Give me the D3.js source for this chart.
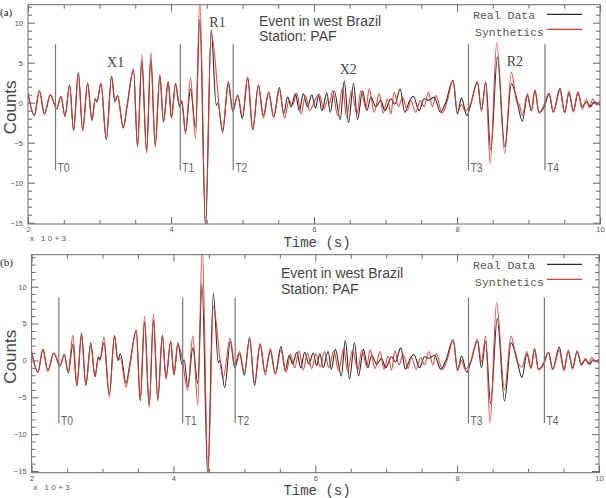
<!DOCTYPE html>
<html><head><meta charset="utf-8">
<script src="https://cdn.jsdelivr.net/npm/d3@7"></script>
<style>body{margin:0;background:#fff}</style>
</head><body><svg id="c" width="606" height="498"></svg>
<script>
// time in units of 10^3 s, amplitude in counts
const realData = [[2.000,1.2],[2.089,-1.6],[2.159,1.5],[2.229,-1.4],[2.313,1.0],[2.401,-0.75],[2.461,0.8],[2.517,-1.7],[2.582,2.2],[2.638,-3.5],[2.704,3.7],[2.764,-3.4],[2.834,2.4],[2.894,-2.2],[2.941,0.5],[2.964,0.1],[3.020,2.4],[3.095,-4.6],[3.169,3.3],[3.215,0.1],[3.253,0.9],[3.332,-3.1],[3.383,-0.6],[3.476,4.1],[3.532,-5.4],[3.592,5.2],[3.658,-6.0],[3.718,5.4],[3.779,-5.3],[3.844,3.4],[3.895,-2.4],[3.961,2.6],[4.007,-1.9],[4.063,2.4],[4.119,-0.5],[4.151,0.1],[4.203,-3.6],[4.273,1.7],[4.343,-3.1],[4.403,10.4],[4.483,-15.5],[4.562,9.1],[4.632,-0.3],[4.655,0.0],[4.722,-3.7],[4.802,2.6],[4.863,-1.0],[4.933,0.9],[4.999,-2.0],[5.073,3.1],[5.143,-3.4],[5.222,2.2],[5.292,-1.6],[5.366,1.3],[5.436,-1.8],[5.516,1.9],[5.576,-1.4],[5.632,0.7],[5.680,-0.5],[5.740,1.1],[5.795,-1.0],[5.850,1.1],[5.910,-0.5],[5.970,1.0],[6.020,-0.7],[6.065,0.9],[6.110,-1.0],[6.180,1.2],[6.227,-1.2],[6.283,1.5],[6.367,-2.1],[6.423,2.7],[6.483,-2.5],[6.553,2.4],[6.609,-2.1],[6.679,1.5],[6.740,-1.0],[6.795,0.7],[6.865,-0.5],[6.935,0.3],[6.991,-1.0],[7.075,0.5],[7.130,-0.2],[7.205,1.7],[7.270,-1.2],[7.330,0.1],[7.390,0.8],[7.470,-1.0],[7.540,0.5],[7.600,0.3],[7.680,0.7],[7.770,-1.2],[7.840,0.0],[7.945,2.8],[8.006,-1.4],[8.062,0.6],[8.137,-1.6],[8.190,-0.3],[8.286,2.6],[8.342,-1.0],[8.402,2.6],[8.472,-5.9],[8.565,5.7],[8.668,-5.5],[8.761,2.4],[8.821,1.0],[8.914,-2.3],[8.984,0.9],[9.040,-1.0],[9.091,1.5],[9.147,-1.2],[9.220,-0.5],[9.287,1.1],[9.347,-1.2],[9.440,1.8],[9.506,-1.2],[9.566,1.2],[9.627,-1.0],[9.692,1.2],[9.752,-0.5],[9.810,0.1],[9.870,-0.5],[9.915,0.1],[10.000,-0.3]];

const synthA = [[2.000,1.2],[2.089,-1.6],[2.159,1.5],[2.229,-1.4],[2.313,1.0],[2.401,-0.75],[2.461,0.8],[2.517,-1.7],[2.582,2.2],[2.638,-3.5],[2.704,3.8],[2.764,-3.5],[2.834,2.5],[2.894,-2.2],[2.941,0.5],[2.964,0.1],[3.020,2.5],[3.095,-4.6],[3.169,3.3],[3.215,0.2],[3.253,0.9],[3.332,-3.2],[3.383,-0.6],[3.476,4.2],[3.532,-5.6],[3.592,6.0],[3.658,-6.3],[3.718,6.3],[3.779,-5.5],[3.844,3.5],[3.895,-2.4],[3.961,2.6],[4.007,-1.9],[4.063,2.3],[4.119,-0.3],[4.151,0.3],[4.203,-3.9],[4.273,3.1],[4.343,-4.5],[4.403,13.0],[4.483,-15.5],[4.562,8.7],[4.722,-3.3],[4.802,2.2],[4.863,-1.1],[4.933,1.0],[4.999,-1.7],[5.073,3.2],[5.143,-3.3],[5.222,2.1],[5.292,-1.9],[5.366,1.3],[5.436,-1.8],[5.516,1.5],[5.590,-1.9],[5.650,0.3],[5.700,-0.3],[5.760,1.2],[5.820,-1.4],[5.880,0.9],[5.940,-1.0],[6.004,0.1],[6.070,1.1],[6.140,-0.8],[6.190,0.4],[6.220,0.0],[6.260,1.5],[6.330,-1.6],[6.400,1.9],[6.456,-1.8],[6.525,1.5],[6.600,-1.4],[6.656,1.5],[6.726,-0.7],[6.772,1.7],[6.842,-1.2],[6.912,1.1],[6.968,-1.3],[7.028,0.5],[7.075,-1.4],[7.121,1.3],[7.182,-0.5],[7.238,0.7],[7.308,-1.0],[7.354,0.3],[7.424,-1.2],[7.484,0.3],[7.540,-0.5],[7.601,1.3],[7.657,-0.5],[7.703,0.9],[7.796,-1.3],[7.866,0.3],[7.945,2.8],[8.006,-1.3],[8.062,-0.2],[8.110,-1.0],[8.190,-0.2],[8.286,2.6],[8.342,-1.0],[8.402,2.6],[8.464,-7.6],[8.556,7.5],[8.668,-6.3],[8.760,3.8],[8.840,0.0],[8.870,-0.2],[8.914,-1.6],[8.984,1.1],[9.040,-1.0],[9.091,1.6],[9.147,-1.3],[9.220,-0.2],[9.287,1.2],[9.347,-1.1],[9.440,1.5],[9.506,-1.3],[9.566,1.5],[9.627,-1.2],[9.692,1.4],[9.752,-0.8],[9.810,0.4],[9.850,-0.6],[9.900,0.5],[9.950,-0.3],[10.000,0.2]];

const synthB = [[2.000,1.2],[2.089,-1.6],[2.159,1.5],[2.229,-1.4],[2.313,1.0],[2.401,-0.75],[2.461,0.8],[2.517,-1.7],[2.582,3.4],[2.638,-3.2],[2.704,3.3],[2.764,-3.3],[2.834,2.1],[2.894,-2.2],[2.941,0.3],[2.964,0.0],[3.020,3.2],[3.095,-5.0],[3.169,3.4],[3.215,0.0],[3.253,0.3],[3.332,-3.6],[3.383,-0.9],[3.476,4.0],[3.532,-5.5],[3.592,6.0],[3.658,-6.4],[3.718,6.3],[3.779,-5.5],[3.844,3.4],[3.895,-2.5],[3.961,2.6],[4.007,-2.0],[4.063,2.2],[4.119,0.5],[4.200,-4.0],[4.273,3.3],[4.343,-6.0],[4.405,15.5],[4.487,-15.5],[4.563,7.3],[4.700,-2.4],[4.800,3.0],[4.863,-0.6],[4.933,1.2],[4.999,-1.7],[5.073,2.8],[5.143,-3.0],[5.222,2.3],[5.292,-2.0],[5.366,1.6],[5.436,-1.9],[5.516,1.4],[5.590,-1.6],[5.650,0.8],[5.710,-1.0],[5.770,1.3],[5.830,-1.3],[5.890,1.0],[5.950,-1.1],[6.010,0.9],[6.070,-0.9],[6.130,1.2],[6.190,-1.0],[6.260,1.3],[6.330,-1.4],[6.400,1.6],[6.456,-1.5],[6.525,1.4],[6.600,-1.3],[6.656,1.4],[6.726,-0.8],[6.772,1.4],[6.842,-1.1],[6.912,1.2],[6.968,-1.2],[7.028,0.6],[7.075,-1.3],[7.121,1.3],[7.182,-0.6],[7.238,0.9],[7.308,-1.1],[7.354,0.4],[7.424,-1.2],[7.484,0.4],[7.540,-0.6],[7.601,1.2],[7.657,-0.6],[7.703,0.9],[7.796,-1.2],[7.866,0.3],[7.945,2.8],[8.006,-1.3],[8.062,0.0],[8.110,-1.2],[8.190,-0.2],[8.286,2.9],[8.342,-0.2],[8.402,3.3],[8.464,-8.5],[8.556,7.8],[8.668,-4.0],[8.760,3.3],[8.840,0.0],[8.914,-0.9],[8.984,1.2],[9.040,-1.1],[9.091,1.6],[9.147,-1.3],[9.220,-0.3],[9.287,1.1],[9.347,-1.2],[9.440,1.4],[9.506,-1.4],[9.566,1.4],[9.627,-1.2],[9.692,1.3],[9.752,-0.7],[9.810,0.3],[9.850,-0.5],[9.900,0.4],[9.950,-0.2],[10.000,0.2]];

const xTicksMajor = [2,4,6,8,10];
const yTicksMajor = [-15,-10,-5,0,5,10];
const markerNames = ["T0","T1","T2","T3","T4"];
const markerTimes = [2.385,4.13,4.87,8.16,9.23];
const phaseNames = ["X1","R1","X2","R2"];
const phaseTimes = [3.225,4.65,6.48,8.81];
const phaseLevels = [5.1,10.1,4.2,5.2];
const legendNames = ["Real Data","Synthetics"];
const titleLines = ["Event in west Brazil","Station: PAF"];

const svg = d3.select("#c");
const COL_REAL = "#2a2a2a", COL_SYN = "#e4372b", AX = "#6a6a6a", TXT = "#555";

const panels = [
  {tag:"(a)", synth:synthA, x0:28, x1:600, y0:4.7, y1:224, yDom:[-15.16,12.25], mark:[-8.4,7.3], titleX:259, titleY:25.5, titleGap:15.5, legY:14.3, phases:true},
  {tag:"(b)", synth:synthB, x0:31.6, x1:599, y0:254.7, y1:472.7, yDom:[-15.23,14.34], mark:[-8.5,8.55], titleX:281, titleY:277.5, titleGap:16.5, legY:264.3, phases:false}
];

panels.forEach((p, i) => {
  const x = d3.scaleLinear().domain([2,10]).range([p.x0, p.x1]);
  const y = d3.scaleLinear().domain(p.yDom).range([p.y1, p.y0]);
  const g = svg.append("g");
  const cid = "clip" + i;
  svg.append("defs").append("clipPath").attr("id", cid)
    .append("rect").attr("x", p.x0).attr("y", p.y0).attr("width", p.x1 - p.x0).attr("height", p.y1 - p.y0);

  const line = d3.line().x(d => x(d[0])).y(d => y(d[1])).curve(d3.curveMonotoneX);
  const lg = g.append("g").attr("clip-path", `url(#${cid})`);
  lg.append("path").datum(realData).attr("d", line).attr("fill","none").attr("stroke",COL_REAL).attr("stroke-width",1.1);
  lg.append("path").datum(p.synth).attr("d", line).attr("fill","none").attr("stroke",COL_SYN).attr("stroke-width",1.1).attr("stroke-opacity",0.92);

  // marker lines
  markerTimes.forEach((t, k) => {
    g.append("line").attr("x1", x(t)).attr("x2", x(t)).attr("y1", y(p.mark[0])).attr("y2", y(p.mark[1]))
      .attr("stroke", "#777").attr("stroke-width", 1.2);
    g.append("text").attr("x", x(t) + 2).attr("y", y(p.mark[0]) + 2)
      .attr("font-family","Liberation Sans Narrow, Liberation Sans, sans-serif").attr("font-size",13.5)
      .attr("textLength", 12).attr("lengthAdjust","spacingAndGlyphs")
      .attr("fill","#666").text(markerNames[k]);
  });

  // axes
  const minorX = d3.range(2, 10.001, 0.5).filter(v => !xTicksMajor.includes(v));
  const minorY = d3.range(-15, p.yDom[1], 1).filter(v => !yTicksMajor.includes(v));
  const styleAxis = sel => { sel.select(".domain").remove(); sel.selectAll("line").attr("stroke", AX); sel.selectAll("text").attr("fill", TXT).attr("font-family","Liberation Sans, sans-serif").attr("font-size", 7.5); };
  g.append("g").attr("transform", `translate(0,${p.y1})`).call(d3.axisBottom(x).tickValues(xTicksMajor).tickSize(-7).tickPadding(3).tickFormat(d3.format("d"))).call(styleAxis);
  g.append("g").attr("transform", `translate(0,${p.y1})`).call(d3.axisBottom(x).tickValues(minorX).tickSize(-4).tickFormat("")).call(styleAxis);
  g.append("g").attr("transform", `translate(0,${p.y0})`).call(d3.axisTop(x).tickValues(xTicksMajor).tickSize(-7).tickFormat("")).call(styleAxis);
  g.append("g").attr("transform", `translate(0,${p.y0})`).call(d3.axisTop(x).tickValues(minorX).tickSize(-4).tickFormat("")).call(styleAxis);
  g.append("g").attr("transform", `translate(${p.x0},0)`).call(d3.axisLeft(y).tickValues(yTicksMajor).tickSize(-7).tickPadding(5).tickFormat(d => d < 0 ? "\u2212" + Math.abs(d) : d)).call(styleAxis);
  g.append("g").attr("transform", `translate(${p.x0},0)`).call(d3.axisLeft(y).tickValues(minorY).tickSize(-4).tickFormat("")).call(styleAxis);
  g.append("g").attr("transform", `translate(${p.x1},0)`).call(d3.axisRight(y).tickValues(yTicksMajor).tickSize(-7).tickFormat("")).call(styleAxis);
  g.append("g").attr("transform", `translate(${p.x1},0)`).call(d3.axisRight(y).tickValues(minorY).tickSize(-4).tickFormat("")).call(styleAxis);

  g.append("rect").attr("x", p.x0).attr("y", p.y0).attr("width", p.x1 - p.x0).attr("height", p.y1 - p.y0)
    .attr("fill","none").attr("stroke", AX).attr("stroke-width", 1);

  // labels
  g.append("text").attr("x", 0).attr("y", p.y0 + 11.5).attr("font-family","Liberation Serif, serif").attr("font-size", 11).attr("fill","#222").text(p.tag);
  g.append("text").attr("x", p.x0 + 2).attr("y", p.y1 + 17).attr("font-family","Liberation Sans, sans-serif").attr("font-size", 8)
    .attr("textLength", 36).attr("lengthAdjust","spacing").attr("fill", TXT).text("x 10+3");
  g.append("text").attr("x", 317).attr("y", p.y1 + 22.5).attr("text-anchor","middle").attr("font-family","Liberation Mono, monospace").attr("font-size", 14).attr("fill","#444").text("Time (s)");
  g.append("text").attr("transform", `translate(16,${(p.y0 + p.y1) / 2 - 7}) rotate(-90)`).attr("text-anchor","middle")
    .attr("font-family","Liberation Sans, Arial, sans-serif").attr("font-size", 17).attr("fill","#444").text("Counts");

  titleLines.forEach((s, k) => {
    g.append("text").attr("x", p.titleX).attr("y", p.titleY + k * p.titleGap).attr("font-family","Liberation Sans, sans-serif").attr("font-size", 14).attr("fill","#444").text(s);
  });

  // legend
  const legCols = [COL_REAL, COL_SYN];
  const legTextX = [473, 475];
  legendNames.forEach((s, k) => {
    const ly = p.legY + k * 15;
    g.append("text").attr("x", legTextX[k]).attr("y", ly + 4.5 + k * 2).attr("font-family","Liberation Mono, monospace").attr("font-size", 11.5).attr("fill","#555").text(s);
    g.append("line").attr("x1", 547).attr("x2", 582).attr("y1", ly).attr("y2", ly).attr("stroke", legCols[k]).attr("stroke-width", 1.2);
  });

  if (p.phases) {
    phaseNames.forEach((s, k) => {
      g.append("text").attr("x", x(phaseTimes[k])).attr("y", y(phaseLevels[k]) + 5).attr("text-anchor","middle")
        .attr("font-family","Liberation Serif, serif").attr("font-size", 14).attr("fill","#444").text(s);
    });
  }
});
</script></body></html>
